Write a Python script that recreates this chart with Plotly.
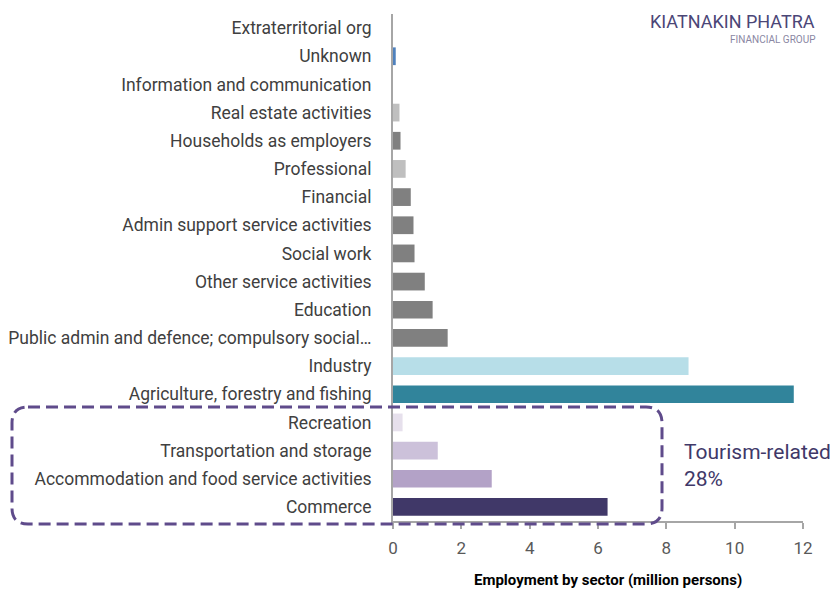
import plotly.graph_objects as go

# Data (bottom to top)
sectors = [
    "Commerce",
    "Accommodation and food service activities",
    "Transportation and storage",
    "Recreation",
    "Agriculture, forestry and fishing",
    "Industry",
    "Public admin and defence; compulsory social\u2026",
    "Education",
    "Other service activities",
    "Social work",
    "Admin support service activities",
    "Financial",
    "Professional",
    "Households as employers",
    "Real estate activities",
    "Information and communication",
    "Unknown",
    "Extraterritorial org",
]
employment = [6.28, 2.89, 1.31, 0.28, 11.73, 8.65, 1.60, 1.16, 0.93, 0.63,
              0.60, 0.52, 0.37, 0.22, 0.19, 0.0, 0.08, 0.0]
bar_colors = ["#403868", "#B3A2C7", "#CCC1DA", "#E6E0EC", "#31849B", "#B7DEE8",
              "#808080", "#808080", "#808080", "#808080", "#808080", "#808080",
              "#BFBFBF", "#808080", "#BFBFBF", "#808080", "#4F81BD", "#808080"]
x_ticks = [0, 2, 4, 6, 8, 10, 12]

FONT = "Roboto"
W, H = 833, 593
ML, MR, MT, MB = 393, 30, 14, 72
PW, PH = W - ML - MR, H - MT - MB

fig = go.Figure(go.Bar(
    x=employment, y=sectors, orientation="h",
    marker=dict(color=bar_colors, line=dict(width=0)),
    hoverinfo="x+y",
))

fig.update_layout(
    width=W, height=H,
    margin=dict(l=ML, r=MR, t=MT, b=MB, autoexpand=False),
    plot_bgcolor="white", paper_bgcolor="white",
    bargap=0.37, showlegend=False,
    font=dict(family=FONT, size=17, color="#404040"),
)
fig.update_xaxes(
    range=[0, 12], tickvals=x_ticks, showgrid=False, zeroline=False,
    showline=True, linecolor="#A6A6A6", linewidth=2,
    ticks="outside", ticklen=6, tickcolor="#A6A6A6", tickwidth=2,
    ticklabelstandoff=5,
    tickfont=dict(family=FONT, size=17, color="#595959"),
)
fig.update_yaxes(
    categoryorder="array", categoryarray=sectors,
    showgrid=False, zeroline=False,
    showline=True, linecolor="#A6A6A6", linewidth=2,
    ticks="", ticklabelstandoff=16,
    tickfont=dict(family=FONT, size=17.5, color="#404040"),
)

def px(xp):
    return (xp - ML) / PW

def py(yp):
    return (H - MB - yp) / PH

# Dashed rounded box around tourism sectors
x0, x1, y0, y1, r = 12, 662, 407, 524, 16
path = (
    f"M {px(x0 + r)} {py(y0)} L {px(x1 - r)} {py(y0)} "
    f"Q {px(x1)} {py(y0)} {px(x1)} {py(y0 + r)} "
    f"L {px(x1)} {py(y1 - r)} "
    f"Q {px(x1)} {py(y1)} {px(x1 - r)} {py(y1)} "
    f"L {px(x0 + r)} {py(y1)} "
    f"Q {px(x0)} {py(y1)} {px(x0)} {py(y1 - r)} "
    f"L {px(x0)} {py(y0 + r)} "
    f"Q {px(x0)} {py(y0)} {px(x0 + r)} {py(y0)} Z"
)
fig.add_shape(type="path", path=path, xref="paper", yref="paper",
              line=dict(color="#5F4B8B", width=3, dash="12px,6px"),
              fillcolor="rgba(0,0,0,0)", layer="above")

fig.add_annotation(text="Tourism-related<br>28%", xref="paper", yref="paper",
                   x=px(682), y=py(465), xanchor="left", yanchor="middle",
                   align="left", showarrow=False,
                   font=dict(family=FONT, size=21, color="#403868"))

fig.add_annotation(text="<b>Employment by sector (million persons)</b>",
                   xref="paper", yref="paper", x=px(608), y=py(580),
                   xanchor="center", yanchor="middle", showarrow=False,
                   font=dict(family=FONT, size=15, color="#000000"))

# Logo text
fig.add_annotation(text="KIATNAKIN PHATRA", xref="paper", yref="paper",
                   x=px(817), y=py(22), xanchor="right", yanchor="middle",
                   showarrow=False,
                   font=dict(family=FONT, size=18, color="#4B4677"))
fig.add_annotation(text="FINANCIAL GROUP", xref="paper", yref="paper",
                   x=px(817), y=py(39), xanchor="right", yanchor="middle",
                   showarrow=False,
                   font=dict(family=FONT, size=10, color="#8A87A3"))

fig.write_html("out.html", config={"displayModeBar": False},
               post_script="document.body.style.margin='0';")
